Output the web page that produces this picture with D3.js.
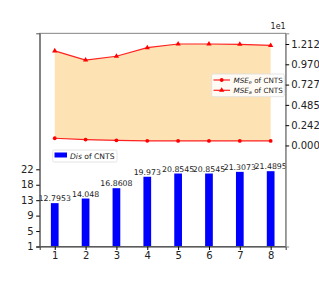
<!DOCTYPE html>
<html>
<head>
<meta charset="utf-8">
<script src="https://cdn.jsdelivr.net/npm/d3@7"></script>
<style>
	body { margin: 0; background: #fff; }
	svg { display: block; font-family: "DejaVu Sans", sans-serif; }
</style>
</head>
<body>
<div id="chart"></div>
<script>
/* eslint-disable no-magic-numbers, one-var */

var steps = [1, 2, 3, 4, 5, 6, 7, 8],
	dis = [12.7953, 14.048, 16.8608, 19.973, 20.8545, 20.8545, 21.3073, 21.4895],
	disLabels = ["12.7953", "14.048", "16.8608", "19.973", "20.8545", "20.8545", "21.3073", "21.4895"],
	mseA = [11.3, 10.2, 10.66, 11.68, 12.12, 12.12, 12.08, 11.95],
	mseE = [0.86, 0.7, 0.62, 0.55, 0.54, 0.54, 0.54, 0.54],
	leftTicks = [1, 5.2, 9.4, 13.6, 17.8, 22],
	leftTickLabels = ["1", "5", "9", "13", "18", "22"],
	rightTicks = [0, 2.424, 4.848, 7.272, 9.696, 12.12],
	rightTickLabels = ["0.000", "0.242", "0.485", "0.727", "0.970", "1.212"];

(function() {
	'use strict';

	var width = 319,
		height = 283,
		left = 39.7,
		right = 285.7,
		top = 33.3,
		bottom = 246.5,
		barW = 0.25,
		x, yL, yR, svg, area, line, tri, lg, lg2;

	x = d3.scaleLinear().domain([0.5125, 8.4875]).range([left, right]);
	yL = d3.scaleLinear().domain([1, 59]).range([bottom, top]);
	yR = d3.scaleLinear().domain([-12.07, 13.4]).range([bottom, top]);

	svg = d3.select("#chart").append("svg")
		.attr("width", width)
		.attr("height", height);

	// fill between the two MSE lines
	area = d3.area()
		.x(function(d, i) { return x(steps[i]); })
		.y0(function(d, i) { return yR(mseE[i]); })
		.y1(function(d) { return yR(d); });

	svg.append("path")
		.datum(mseA)
		.attr("fill", "#fde2b4")
		.attr("d", area);

	line = d3.line()
		.x(function(d, i) { return x(steps[i]); })
		.y(function(d) { return yR(d); });

	[mseE, mseA].forEach(function(s) {
		svg.append("path")
			.datum(s)
			.attr("fill", "none")
			.attr("stroke", "#ff2020")
			.attr("stroke-width", 1.2)
			.attr("d", line);
	});

	svg.append("g").selectAll("circle")
		.data(mseE)
		.join("circle")
		.attr("cx", function(d, i) { return x(steps[i]); })
		.attr("cy", function(d) { return yR(d); })
		.attr("r", 1.9)
		.attr("fill", "#ff0000");

	tri = d3.symbol().type(d3.symbolTriangle).size(12);
	svg.append("g").selectAll("path")
		.data(mseA)
		.join("path")
		.attr("transform", function(d, i) { return "translate(" + x(steps[i]) + "," + yR(d) + ")"; })
		.attr("d", tri)
		.attr("fill", "#ff0000");

	// bars
	svg.append("g").selectAll("rect")
		.data(dis)
		.join("rect")
		.attr("x", function(d, i) { return x(steps[i] - barW / 2); })
		.attr("width", x(barW) - x(0))
		.attr("y", function(d) { return yL(d); })
		.attr("height", function(d) { return yL(1) - yL(d); })
		.attr("fill", "#0000ff");

	svg.append("g").selectAll("text")
		.data(dis)
		.join("text")
		.attr("x", function(d, i) { return x(steps[i]); })
		.attr("y", function(d) { return yL(d) - 2; })
		.attr("text-anchor", "middle")
		.attr("font-size", 7.8)
		.attr("fill", "#222")
		.text(function(d, i) { return disLabels[i]; });

	// frame
	svg.append("rect")
		.attr("x", left)
		.attr("y", top)
		.attr("width", right - left)
		.attr("height", bottom - top)
		.attr("fill", "none")
		.attr("stroke", "#777")
		.attr("stroke-width", 0.9);

	svg.append("g")
		.attr("transform", "translate(0," + bottom + ")")
		.call(d3.axisBottom(x).tickValues(steps).tickFormat(d3.format("d")).tickSizeOuter(0).tickSize(3.5).tickPadding(2))
		.call(function(g) {
			g.select(".domain").attr("stroke", "#333");
			g.selectAll("text").attr("font-size", 10).attr("fill", "#222").attr("font-family", "DejaVu Sans");
		});

	svg.append("g")
		.attr("transform", "translate(" + left + ",0)")
		.call(d3.axisLeft(yL).tickValues(leftTicks).tickFormat(function(d, i) { return leftTickLabels[i]; }).tickSizeOuter(0).tickSize(3.5).tickPadding(2.5))
		.call(function(g) {
			g.select(".domain").attr("stroke", "#555");
			g.selectAll("text").attr("font-size", 10).attr("fill", "#222").attr("font-family", "DejaVu Sans");
		});

	svg.append("g")
		.attr("transform", "translate(" + right + ",0)")
		.call(d3.axisRight(yR).tickValues(rightTicks).tickFormat(function(d, i) { return rightTickLabels[i]; }).tickSizeOuter(0).tickSize(3.5).tickPadding(2))
		.call(function(g) {
			g.select(".domain").attr("stroke", "#888");
			g.selectAll("text").attr("font-size", 10).attr("fill", "#222").attr("font-family", "DejaVu Sans");
		});

	svg.append("text")
		.attr("x", right)
		.attr("y", 29)
		.attr("text-anchor", "end")
		.attr("font-size", 8)
		.attr("fill", "#222")
		.text("1e1");

	// legend for the lines
	lg = svg.append("g");
	lg.append("rect")
		.attr("x", 211.7).attr("y", 74)
		.attr("width", 72.6).attr("height", 22.7)
		.attr("rx", 1.5)
		.attr("fill", "#fff").attr("fill-opacity", 0.85)
		.attr("stroke", "#ddd").attr("stroke-width", 0.8);
	[["e", "circle"], ["a", "tri"]].forEach(function(item, i) {
		var yy = 80 + i * 10.3,
			t;
		lg.append("line")
			.attr("x1", 213.5).attr("x2", 230)
			.attr("y1", yy).attr("y2", yy)
			.attr("stroke", "#ff2020").attr("stroke-width", 1.2);
		if (item[1] === "circle") {
			lg.append("circle").attr("cx", 221.7).attr("cy", yy).attr("r", 1.9).attr("fill", "#ff0000");
		} else {
			lg.append("path").attr("transform", "translate(221.7," + yy + ")").attr("d", tri).attr("fill", "#ff0000");
		}
		t = lg.append("text")
			.attr("x", 233.5).attr("y", yy + 2.6)
			.attr("font-size", 7.2)
			.attr("fill", "#222");
		t.append("tspan").attr("font-style", "italic").text("MSE");
		t.append("tspan").attr("font-style", "italic").attr("font-size", 5).attr("dy", 1.5).text(item[0]);
		t.append("tspan").attr("dy", -1.5).text(" of CNTS");
	});

	// legend for the bars
	lg2 = svg.append("g");
	lg2.append("rect")
		.attr("x", 52.7).attr("y", 150)
		.attr("width", 64.3).attr("height", 12)
		.attr("rx", 1.5)
		.attr("fill", "#fff")
		.attr("stroke", "#ddd").attr("stroke-width", 0.8);
	lg2.append("rect")
		.attr("x", 54.5).attr("y", 152.5)
		.attr("width", 12.5).attr("height", 5)
		.attr("fill", "#0000ff");
	lg2.append("text")
		.attr("x", 70).attr("y", 158.6)
		.attr("font-size", 7.6)
		.attr("fill", "#222")
		.call(function(t) {
			t.append("tspan").attr("font-style", "italic").text("Dis");
			t.append("tspan").text(" of CNTS");
		});
}());
</script>
</body>
</html>
